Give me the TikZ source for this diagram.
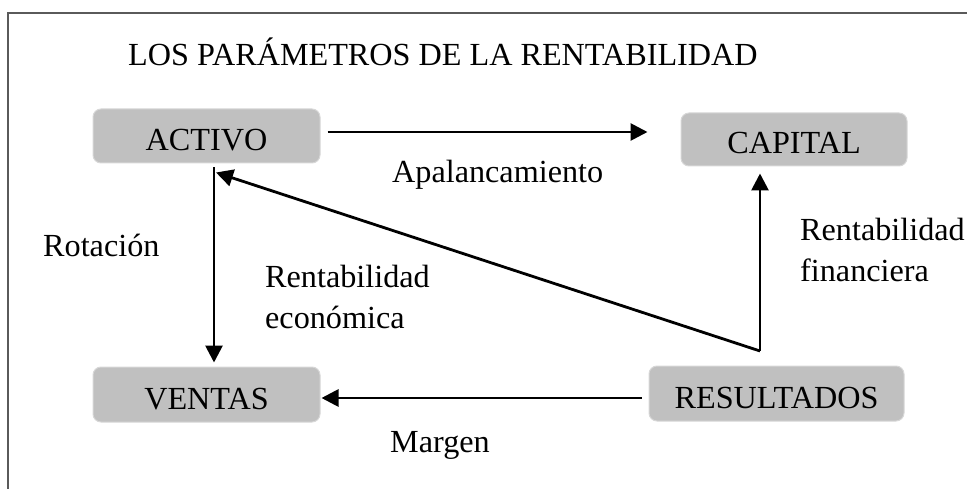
\documentclass[tikz,border=0pt]{standalone}
\usepackage{fontspec}
\setmainfont{Liberation Serif}
\usetikzlibrary{arrows.meta}
\definecolor{boxgray}{RGB}{192,192,192}
\definecolor{boxedge}{RGB}{215,215,215}
\definecolor{framegray}{RGB}{90,90,90}
\begin{document}
\begin{tikzpicture}[x=1pt,y=-1pt,
  every node/.style={font=\fontsize{32.2}{41}\selectfont},
  box/.style={fill=boxgray,draw=boxedge,line width=1pt,rounded corners=8pt,inner sep=0pt,
    text height=35pt,text depth=6pt},
  lbl/.style={inner sep=0pt,anchor=base west},
  arr/.style={line width=2.8pt,-{Triangle[length=17pt,width=17pt]}}]
\useasboundingbox (0,0) rectangle (967,489);
% frame
\draw[framegray,line width=1.5pt] (8,489) -- (8,13) -- (967,13);
% title
\node[lbl] (title) at (128,66) {LOS PARÁMETROS DE LA RENTABILIDAD};
% boxes
\node[box,minimum width=227pt,minimum height=54pt] (activo) at (206.5,136) {ACTIVO};
\node[box,minimum width=226pt,minimum height=53pt] (capital) at (794,139.5) {CAPITAL};
\node[box,minimum width=227pt,minimum height=55pt] (ventas) at (206.5,394.5) {VENTAS};
\node[box,minimum width=255pt,minimum height=55pt] (resultados) at (776.5,393.5) {RESULTADOS};
% connectors
\draw[arr] ([shift={(7,-4)}]activo.east) -- ([shift={(-33,-7.5)}]capital.west);
\draw[arr] ([shift={(7.5,4)}]activo.south) -- ([shift={(7.5,-4)}]ventas.north);
\draw[arr] ([shift={(-7,4.5)}]resultados.west) -- ([shift={(1,3.5)}]ventas.east);
\coordinate (k) at (760,351);
\draw[arr] (k) -- ([shift={(9.5,9)}]activo.south);
\draw[arr] (k) -- ([shift={(-34,7)}]capital.south);
% labels
\node[lbl] (apal) at (392,183) {Apalancamiento};
\node[lbl] (marg) at (390,452) {Margen};
\node[lbl] (rot) at (43,257) {Rotación};
\node[lbl,align=left] (reco) at (265,328) {Rentabilidad\\económica};
\node[lbl,align=left] (rfin) at (800,282) {Rentabilidad\\financiera};
\end{tikzpicture}
\end{document}
